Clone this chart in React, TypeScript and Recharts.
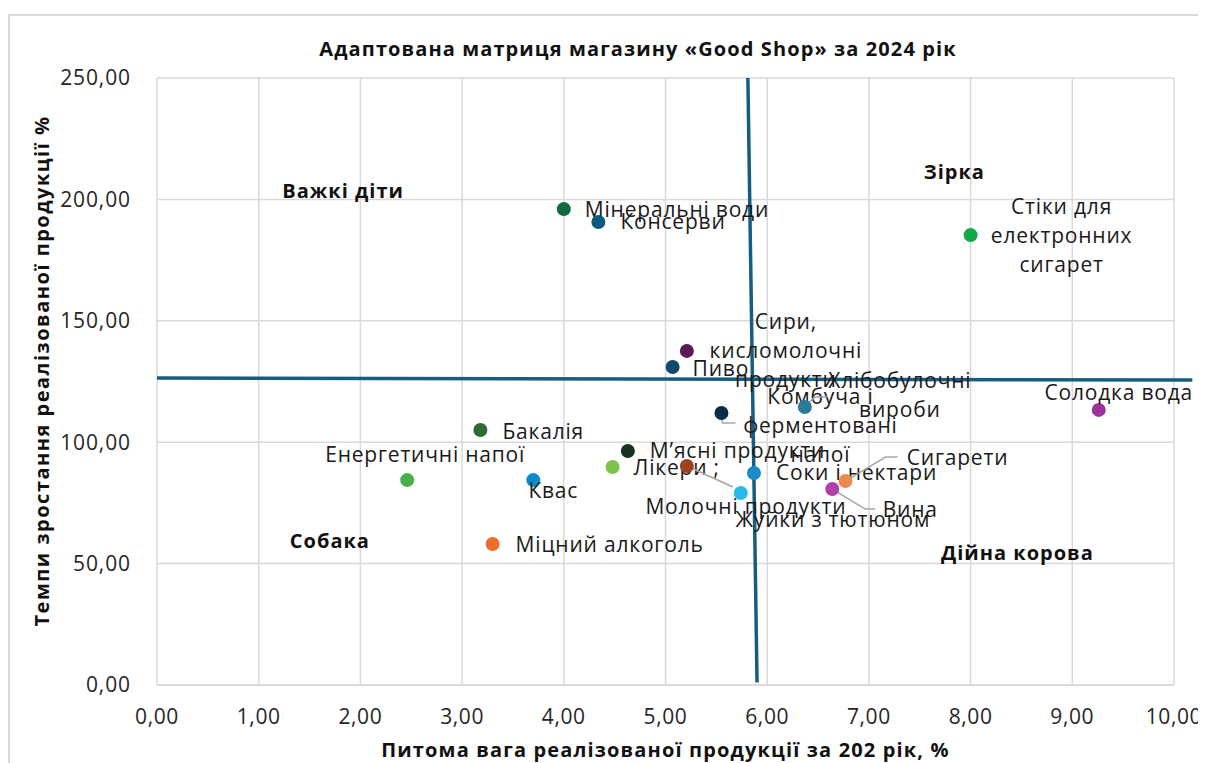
import React from 'react';
import { ScatterChart, Scatter, XAxis, YAxis, CartesianGrid, ReferenceLine, Label } from 'recharts';

const FONT = '"Open Sans", "Liberation Sans", sans-serif';

// Product groups, their share of sales (%) and sales growth rate (%)
const categories = [
  'Мінеральні води',
  'Консерви',
  'Стіки для електронних сигарет',
  'Сири, кисломолочні продукти',
  'Пиво',
  'Комбуча і ферментовані напої',
  'Хлібобулочні вироби',
  'Солодка вода',
  'Бакалія',
  'М’ясні продукти',
  'Лікери ;',
  'Молочні продукти',
  'Енергетичні напої',
  'Квас',
  'Жуйки з тютюном',
  'Соки і нектари',
  'Вина',
  'Сигарети',
  'Міцний алкоголь',
];
const shareValues = [4.0, 4.34, 8.0, 5.21, 5.07, 5.55, 6.37, 9.26, 3.18, 4.63, 4.48, 5.21, 2.46, 3.7, 5.74, 5.87, 6.64, 6.77, 3.3];
const growthValues = [196.0, 190.7, 185.3, 137.6, 131.0, 112.0, 114.5, 113.3, 105.0, 96.4, 89.8, 90.2, 84.4, 84.4, 79.1, 87.3, 80.7, 84.0, 58.1];
const pointColors = [
  '#0f6b3c', '#0d5a80', '#12a84a', '#5a1a55', '#0f4a6b', '#0b2d45', '#2a7a9a', '#a0309a', '#2e6a34', '#1a3320',
  '#7ac44a', '#a0401e', '#4aae4f', '#0a8ccc', '#2ab8ec', '#1a8acb', '#b040a8', '#ec8a50', '#ec702a',
];

const xTicks = [0, 1, 2, 3, 4, 5, 6, 7, 8, 9, 10];
const yTicks = [0, 50, 100, 150, 200, 250];

// Quadrant captions of the BCG-style matrix
const quadrantNames = ['Важкі діти', 'Зірка', 'Собака', 'Дійна корова'];
const quadrantX = [1.83, 7.84, 1.7, 8.46];
const quadrantY = [203.5, 211.3, 59.3, 54.4];

// Dividing lines between quadrants
const horizontalDivider = [{ x: 0, y: 126.4 }, { x: 10.18, y: 125.6 }];
const verticalDivider = [{ x: 5.81, y: 250 }, { x: 5.9, y: 1 }];

// Label placement for each point (pixel offsets from the marker)
type LabelPlace = { dx: number; dy: number; anchor: 'start' | 'middle'; wrap?: number[]; leader?: number[][] };
const labelPlacement: LabelPlace[] = [
  { dx: 21, dy: 1, anchor: 'start' },
  { dx: 22, dy: 0, anchor: 'start' },
  { dx: 91, dy: -28, anchor: 'middle', wrap: [2, 1, 1] },
  { dx: 99, dy: -29, anchor: 'middle', wrap: [1, 1, 1] },
  { dx: 20, dy: 2, anchor: 'start' },
  { dx: 99, dy: -16, anchor: 'middle', wrap: [2, 1, 1], leader: [[0, 2], [1, 10], [14, 10]] },
  { dx: 95, dy: -26, anchor: 'middle', wrap: [1, 1], leader: [[0, 0], [10, -10], [22, -10]] },
  { dx: 20, dy: -17, anchor: 'middle' },
  { dx: 22, dy: 2, anchor: 'start' },
  { dx: 22, dy: 0, anchor: 'start' },
  { dx: 21, dy: 1, anchor: 'start' },
  { dx: 59, dy: 41, anchor: 'middle', leader: [[0, 0], [46, 21]] },
  { dx: 18, dy: -25, anchor: 'middle' },
  { dx: 20, dy: 11, anchor: 'middle' },
  { dx: 92, dy: 27, anchor: 'middle' },
  { dx: 22, dy: 0, anchor: 'start' },
  { dx: 78, dy: 21, anchor: 'middle', leader: [[0, 0], [33, 20], [43, 20]] },
  { dx: 112, dy: -23, anchor: 'middle', leader: [[0, 0], [40, -24], [52, -24]] },
  { dx: 23, dy: 1, anchor: 'start' },
];

const points = categories.map((name, i) => ({ name, x: shareValues[i], y: growthValues[i], idx: i }));
const quadrants = quadrantNames.map((name, i) => ({ name, x: quadrantX[i], y: quadrantY[i] }));

const fmt = (v: number) => v.toFixed(2).replace('.', ',');

const splitLines = (name: string, wrap?: number[]) => {
  if (!wrap) return [name];
  const words = name.split(' ');
  const out: string[] = [];
  let k = 0;
  wrap.forEach((n) => {
    out.push(words.slice(k, k + n).join(' '));
    k += n;
  });
  return out;
};

const PointShape = (props: any) => {
  const { cx, cy, payload } = props;
  const i = payload.idx;
  const place = labelPlacement[i];
  const lines = splitLines(payload.name, place.wrap);
  return (
    <g>
      {place.leader && (
        <polyline
          points={place.leader.map(([a, b]) => `${cx + a},${cy + b}`).join(' ')}
          fill="none"
          stroke="#a6a6a6"
          strokeWidth={1.5}
        />
      )}
      <circle cx={cx} cy={cy} r={7} fill={pointColors[i]} />
      {lines.map((line, j) => (
        <text
          key={j}
          x={cx + place.dx}
          y={cy + place.dy + j * 29}
          dy="0.35em"
          textAnchor={place.anchor}
          fontFamily={FONT}
          fontSize={21}
          letterSpacing={0.8}
          fill="#1a1a1a"
        >
          {line}
        </text>
      ))}
    </g>
  );
};

const QuadrantShape = (props: any) => {
  const { cx, cy, payload } = props;
  return (
    <text
      x={cx}
      y={cy}
      dy="0.35em"
      textAnchor="middle"
      fontFamily={FONT}
      fontSize={20}
      letterSpacing={1}
      fontWeight={700}
      fill="#111"
    >
      {payload.name}
    </text>
  );
};

export default function App() {
  return (
    <div style={{ position: 'relative', width: 1198, height: 755, overflow: 'hidden', background: '#fff' }}>
      <div
        style={{
          position: 'absolute',
          left: 0,
          top: 6,
          width: 1300,
          height: 900,
          border: '2px solid #d9d9d9',
          boxSizing: 'border-box',
        }}
      />
      <div
        style={{
          position: 'absolute',
          left: 0,
          top: 27,
          width: 1198,
          textAlign: 'center',
          paddingLeft: 62,
          boxSizing: 'border-box',
          fontFamily: FONT,
          fontWeight: 700,
          fontSize: 20,
          letterSpacing: 1.1,
          color: '#111',
        }}
      >
        Адаптована матриця магазину «Good Shop» за 2024 рік
      </div>
      <div style={{ position: 'absolute', left: 0, top: 0 }}>
        <ScatterChart width={1198} height={755} margin={{ top: 70, right: 32, left: 0, bottom: 0 }}>
          <CartesianGrid stroke="#d9d9d9" strokeWidth={1.5} />
          <XAxis
            type="number"
            dataKey="x"
            domain={[0, 10]}
            ticks={xTicks}
            tickFormatter={fmt}
            height={78}
            tickLine={false}
            axisLine={{ stroke: '#d9d9d9', strokeWidth: 1.5 }}
            tickMargin={18}
            tick={{ fontFamily: FONT, fontSize: 21, fill: '#262626', letterSpacing: 0.6 }}
          >
            <Label
              content={(p: any) => {
                const vb = p.viewBox;
                return (
                  <text
                    x={vb.x + vb.width / 2}
                    y={742}
                    dy="0.35em"
                    textAnchor="middle"
                    fontFamily={FONT}
                    fontSize={20}
                    letterSpacing={1.15}
                    fontWeight={700}
                    fill="#111"
                  >
                    Питома вага реалізованої продукції за 202 рік, %
                  </text>
                );
              }}
            />
          </XAxis>
          <YAxis
            type="number"
            dataKey="y"
            domain={[0, 250]}
            ticks={yTicks}
            tickFormatter={fmt}
            width={149}
            tickLine={false}
            axisLine={false}
            tickMargin={20}
            tick={{ fontFamily: FONT, fontSize: 21, fill: '#262626', letterSpacing: 0.9 }}
          >
            <Label
              content={() => (
                <text
                  x={34}
                  y={363}
                  dy="0.35em"
                  textAnchor="middle"
                  transform="rotate(-90 34 363)"
                  fontFamily={FONT}
                  fontSize={20}
                  letterSpacing={1.5}
                  fontWeight={700}
                  fill="#111"
                >
                  Темпи зростання реалізованої продукції %
                </text>
              )}
            />
          </YAxis>
          <Scatter data={quadrants} shape={QuadrantShape} isAnimationActive={false} />
          <Scatter data={points} shape={PointShape} isAnimationActive={false} />
          <ReferenceLine segment={horizontalDivider} stroke="#155e82" strokeWidth={3.5} ifOverflow="visible" />
          <ReferenceLine segment={verticalDivider} stroke="#155e82" strokeWidth={3.5} ifOverflow="visible" />
        </ScatterChart>
      </div>
    </div>
  );
}
